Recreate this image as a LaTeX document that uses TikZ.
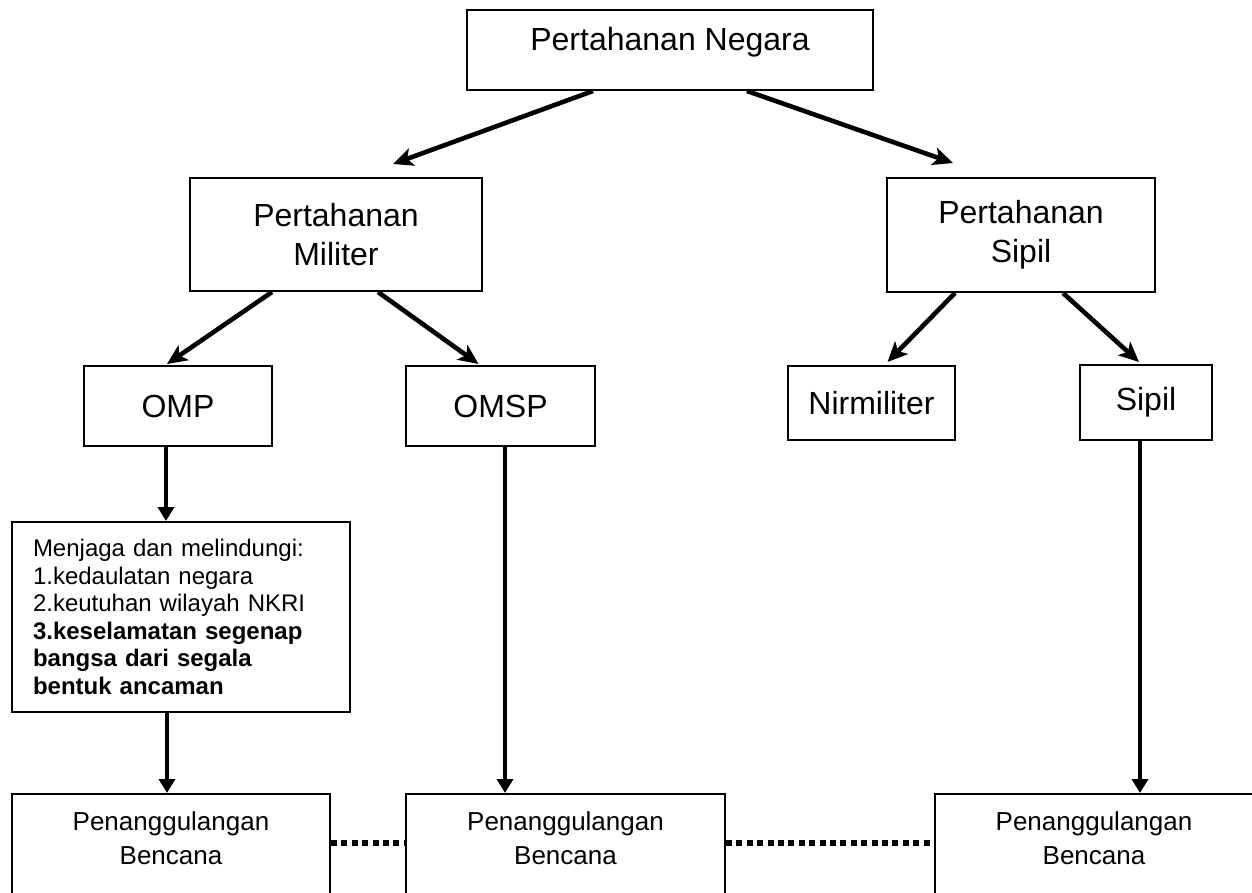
\documentclass[tikz,border=0pt]{standalone}
\usepackage{fontspec}
\setmainfont{Liberation Sans}
\usetikzlibrary{arrows.meta, positioning}

\begin{document}
\begin{tikzpicture}[x=0.5pt, y=-0.5pt,
    box/.style={draw, line width=1pt, inner sep=0pt, align=center},
    bigtext/.style={font=\fontsize{16}{19.5}\selectfont},
    bencanabox/.style={box, anchor=north, text height=35pt, text depth=20pt, font=\fontsize{13}{17}\selectfont},
    diagarrow/.style={line width=2.3pt, -{Stealth[length=10pt, width=9pt, inset=2.5pt]}},
    downarrow/.style={line width=2.3pt, -{Triangle[length=7pt, width=8pt]}},
    dotline/.style={line width=3pt, dash pattern=on 3pt off 2.2pt}]
  \path[use as bounding box, clip] (0,0) rectangle (1252,893);
  % top level
  \node[box, bigtext, anchor=north, minimum width=203pt, text height=20.5pt, text depth=19.5pt] (negara) at (670,9) {Pertahanan Negara};
  % second level
  \node[box, bigtext, minimum width=146pt, minimum height=56.5pt] (militer) at (336,234.5) {Pertahanan\\Militer};
  \node[box, bigtext, minimum width=134pt, minimum height=57pt] (sipil) at (1021,235) {Pertahanan\\Sipil};
  % third level
  \node[box, bigtext, minimum width=94pt, minimum height=40pt] (omp) at (178,406) {OMP};
  \node[box, bigtext, minimum width=94.5pt, minimum height=40pt] (omsp) at (500.5,406) {OMSP};
  \node[box, bigtext, minimum width=83.5pt, minimum height=37pt] (nirmiliter) at (871.5,403) {Nirmiliter};
  \node[box, bigtext, minimum width=66pt, minimum height=37.5pt] (sipilkecil) at (1146,402.5) {Sipil};
  % tugas OMP
  \node[box, minimum width=169pt, minimum height=95pt, text width=148pt, align=left, font=\fontsize{12}{13.75}\selectfont] (menjaga) at (181,617)
    {Menjaga dan melindungi:\\1.kedaulatan negara\\2.keutuhan wilayah NKRI\\\textbf{3.keselamatan segenap}\\\textbf{bangsa dari segala}\\\textbf{bentuk ancaman}};
  % penanggulangan bencana
  \node[bencanabox, minimum width=159pt] (bencana1) at (171,793) {Penanggulangan\\Bencana};
  \node[bencanabox, minimum width=159.5pt] (bencana2) at (565.5,793) {Penanggulangan\\Bencana};
  \node[bencanabox, minimum width=159pt] (bencana3) at (1094,793) {Penanggulangan\\Bencana};
  % arrows
  \draw[diagarrow] ([xshift=-38.5pt]negara.south) -- ([xshift=28.5pt, yshift=6.5pt]militer.north);
  \draw[diagarrow] ([xshift=38.5pt]negara.south) -- ([xshift=-34pt, yshift=7pt]sipil.north);
  \draw[diagarrow] ([xshift=-32pt]militer.south) -- ([xshift=-5.5pt, yshift=0.5pt]omp.north);
  \draw[diagarrow] ([xshift=21pt]militer.south) -- ([xshift=-11pt, yshift=0.5pt]omsp.north);
  \draw[diagarrow] ([xshift=-33pt]sipil.south) -- ([xshift=8pt, yshift=1.5pt]nirmiliter.north);
  \draw[diagarrow] ([xshift=21pt]sipil.south) -- ([xshift=-3.5pt, yshift=1pt]sipilkecil.north);
  \draw[downarrow] ([xshift=-6pt]omp.south) -- ([xshift=-6pt]omp.south |- menjaga.north);
  \draw[downarrow] ([xshift=-7pt]menjaga.south) -- ([xshift=-7pt]menjaga.south |- bencana1.north);
  \draw[downarrow] ([xshift=2.25pt]omsp.south) -- ([xshift=2.25pt]omsp.south |- bencana2.north);
  \draw[downarrow] ([xshift=-3pt]sipilkecil.south) -- ([xshift=-3pt]sipilkecil.south |- bencana3.north);
  % dotted links
  \draw[dotline] ([yshift=-25pt]bencana1.north east) -- ([yshift=-25pt]bencana2.north west);
  \draw[dotline] ([yshift=-25pt]bencana2.north east) -- ([yshift=-25pt]bencana3.north west);
\end{tikzpicture}
\end{document}
